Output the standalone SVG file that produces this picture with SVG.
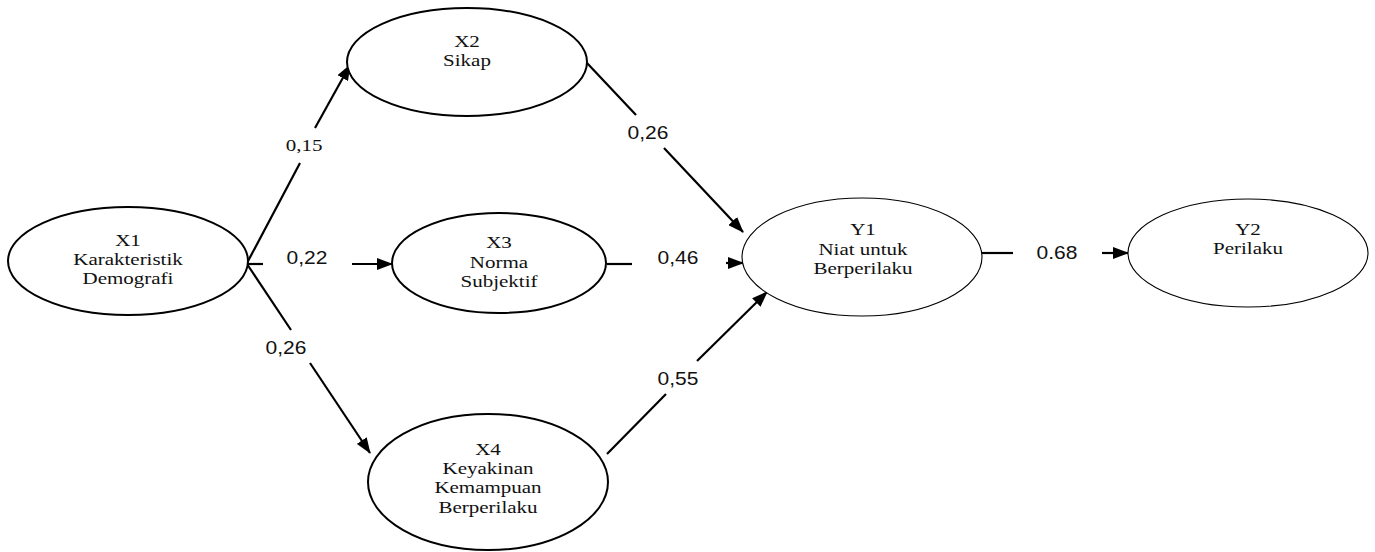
<svg xmlns="http://www.w3.org/2000/svg" width="1375" height="552" viewBox="0 0 1375 552">
<style>
.n{fill:#fff;stroke:#000;stroke-width:2}
.nt{fill:#fff;stroke:#000;stroke-width:1.1}
.t{font-family:"Liberation Serif","Times New Roman",serif;font-size:17.5px;text-anchor:middle;fill:#111}
.l{font-family:"Liberation Sans",Arial,sans-serif;font-size:17.5px;text-anchor:middle;fill:#111}
.e{stroke:#000;stroke-width:2.2;fill:none}
</style>
<defs>
<marker id="ah" viewBox="0 0 16 12" refX="15" refY="6" markerWidth="16" markerHeight="12" orient="auto" markerUnits="userSpaceOnUse"><path d="M0,0 L16,6 L0,12 z" fill="#000"/></marker>
</defs>
<rect width="1375" height="552" fill="#fff"/>
<g id="connectors">
<line class="e" x1="247" y1="263" x2="300" y2="163"/>
<line class="e" x1="315" y1="128" x2="350" y2="65" marker-end="url(#ah)"/>
<line class="e" x1="247" y1="264" x2="263" y2="264"/>
<line class="e" x1="352" y1="264" x2="392" y2="264" marker-end="url(#ah)"/>
<line class="e" x1="247" y1="264" x2="291" y2="330"/>
<line class="e" x1="310" y1="363" x2="370" y2="453" marker-end="url(#ah)"/>
<line class="e" x1="587" y1="63" x2="636" y2="115"/>
<line class="e" x1="664" y1="148" x2="743" y2="232" marker-end="url(#ah)"/>
<line class="e" x1="607" y1="264" x2="632" y2="264"/>
<line class="e" x1="726" y1="263" x2="743" y2="263" marker-end="url(#ah)"/>
<line class="e" x1="607" y1="454" x2="666" y2="394"/>
<line class="e" x1="697" y1="361" x2="767" y2="292" marker-end="url(#ah)"/>
<line class="e" x1="982" y1="253" x2="1013" y2="253"/>
<line class="e" x1="1102" y1="253" x2="1128" y2="253" marker-end="url(#ah)"/>
<g transform="translate(304,0) scale(1.2,1)"><text class="t" x="0" y="151">0,15</text></g>
<g transform="translate(307,0) scale(1.2,1)"><text class="l" x="0" y="264">0,22</text></g>
<g transform="translate(286,0) scale(1.2,1)"><text class="l" x="0" y="354">0,26</text></g>
<g transform="translate(648,0) scale(1.2,1)"><text class="l" x="0" y="139">0,26</text></g>
<g transform="translate(678,0) scale(1.2,1)"><text class="l" x="0" y="264">0,46</text></g>
<g transform="translate(678,0) scale(1.2,1)"><text class="l" x="0" y="385">0,55</text></g>
<g transform="translate(1057,0) scale(1.2,1)"><text class="l" x="0" y="259">0.68</text></g>
</g>
<g id="X1">
<ellipse class="n" cx="128" cy="261" rx="120" ry="54"/>
<g transform="translate(128,0) scale(1.2,1)"><text class="t" x="0" y="246">X1</text><text class="t" x="0" y="265">Karakteristik</text><text class="t" x="0" y="284">Demografi</text></g>
</g>
<g id="X2">
<ellipse class="n" cx="467" cy="62" rx="120" ry="54"/>
<g transform="translate(467,0) scale(1.2,1)"><text class="t" x="0" y="47">X2</text><text class="t" x="0" y="66">Sikap</text></g>
</g>
<g id="X3">
<ellipse class="n" cx="499" cy="263" rx="107" ry="50"/>
<g transform="translate(499,0) scale(1.2,1)"><text class="t" x="0" y="248">X3</text><text class="t" x="0" y="268">Norma</text><text class="t" x="0" y="287">Subjektif</text></g>
</g>
<g id="X4">
<ellipse class="n" cx="488" cy="482" rx="120" ry="68"/>
<g transform="translate(488,0) scale(1.2,1)"><text class="t" x="0" y="455">X4</text><text class="t" x="0" y="474">Keyakinan</text><text class="t" x="0" y="493">Kemampuan</text><text class="t" x="0" y="513">Berperilaku</text></g>
</g>
<g id="Y1">
<ellipse class="nt" cx="862" cy="257" rx="120" ry="59"/>
<g transform="translate(863,0) scale(1.2,1)"><text class="t" x="0" y="235">Y1</text><text class="t" x="0" y="255">Niat untuk</text><text class="t" x="0" y="274">Berperilaku</text></g>
</g>
<g id="Y2">
<ellipse class="nt" cx="1248" cy="253" rx="120" ry="54"/>
<g transform="translate(1248,0) scale(1.2,1)"><text class="t" x="0" y="235">Y2</text><text class="t" x="0" y="254">Perilaku</text></g>
</g>
</svg>
